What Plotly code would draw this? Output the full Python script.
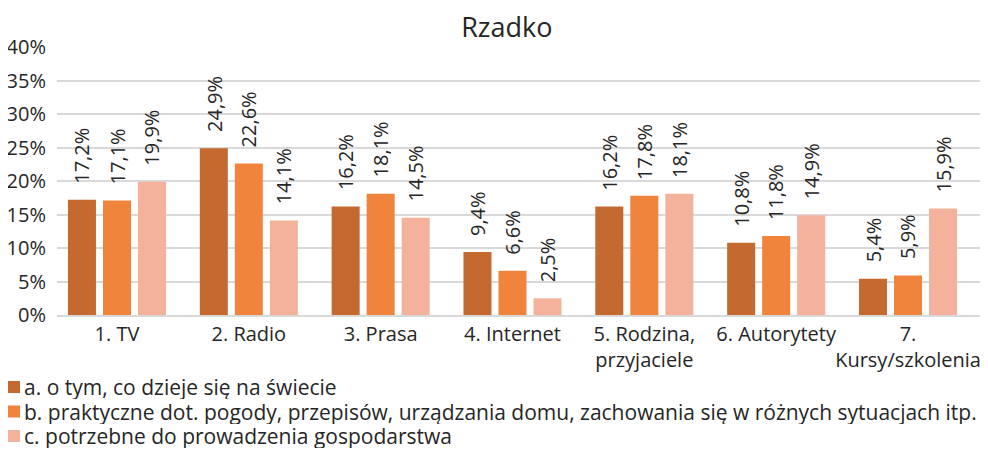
import plotly.graph_objects as go

categories = ["1. TV", "2. Radio", "3. Prasa", "4. Internet", "5. Rodzina,<br>przyjaciele",
              "6. Autorytety", "7.<br>Kursy/szkolenia"]
series_names = ["a. o tym, co dzieje się na świecie",
                "b. praktyczne dot. pogody, przepisów, urządzania domu, zachowania się w różnych sytuacjach itp.",
                "c. potrzebne do prowadzenia gospodarstwa"]
values_a = [17.2, 24.9, 16.2, 9.4, 16.2, 10.8, 5.4]
values_b = [17.1, 22.6, 18.1, 6.6, 17.8, 11.8, 5.9]
values_c = [19.9, 14.1, 14.5, 2.5, 18.1, 14.9, 15.9]
colors = ["#C46A30", "#F0843C", "#F4B19C"]
tick_vals = [0, 5, 10, 15, 20, 25, 30, 35, 40]
tick_text = [f"{v}%" for v in tick_vals]

FONT = "Open Sans, sans-serif"
TXT = "#262626"
W, H = 980, 444
ML, MR, MT, MB = 49, 3, 39, 137
PW, PH = W - ML - MR, H - MT - MB


def px2paper_x(px):
    return (px - ML) / PW


def px2paper_y(py):
    return (H - MB - py) / PH


fig = go.Figure()
annotations = []
shapes = []
slot_px = 35
for i, (name, vals, col) in enumerate(zip(series_names, [values_a, values_b, values_c], colors)):
    xs = list(range(len(categories)))
    fig.add_trace(go.Bar(
        x=xs, y=vals, name=name, showlegend=False,
        marker=dict(color=col, line=dict(width=0)),
    ))
    for xv, v in zip(xs, vals):
        annotations.append(dict(
            x=xv, y=v, xref="x", yref="y", text=f"{v:.1f}%".replace(".", ","),
            showarrow=False, textangle=-90, xanchor="center", yanchor="bottom",
            xshift=(i - 1) * slot_px, yshift=14,
            font=dict(size=20, color=TXT, family=FONT),
        ))
    # legend entry (swatch + label)
    cy = 379 + i * 24.5
    shapes.append(dict(type="rect", xref="paper", yref="paper",
                       x0=px2paper_x(0), x1=px2paper_x(12),
                       y0=px2paper_y(cy + 6), y1=px2paper_y(cy - 6),
                       fillcolor=col, line=dict(width=0)))
    annotations.append(dict(
        x=px2paper_x(15), y=px2paper_y(cy), xref="paper", yref="paper",
        text=name, showarrow=False, xanchor="left", yanchor="middle",
        height=24, valign="middle", borderpad=0,
        font=dict(size=21, color=TXT, family=FONT),
    ))

fig.update_layout(
    width=W, height=H,
    margin=dict(l=ML, r=MR, t=MT, b=MB, autoexpand=False),
    paper_bgcolor="white", plot_bgcolor="white",
    barmode="group", bargap=0.203, bargroupgap=0.2,
    title=dict(text="Rzadko", x=0.509, xanchor="center", y=0.957, yanchor="middle",
               font=dict(size=27, color=TXT, family=FONT)),
    font=dict(family=FONT, color=TXT),
    annotations=annotations,
    shapes=shapes,
    xaxis=dict(tickmode="array", tickvals=list(range(len(categories))), ticktext=categories,
               range=[-0.455, 6.584], showgrid=False, showline=True, linecolor="#d9d9d9",
               linewidth=1.5, ticks="", tickangle=0, tickfont=dict(size=20, color=TXT)),
    yaxis=dict(range=[0, 40], tickmode="array", tickvals=tick_vals, ticktext=tick_text,
               showgrid=True, gridcolor="#d9d9d9", gridwidth=1.5, zeroline=False,
               tickfont=dict(size=20, color=TXT), ticks="", ticklabelstandoff=10),
    showlegend=False,
)
fig.write_html("out.html")
